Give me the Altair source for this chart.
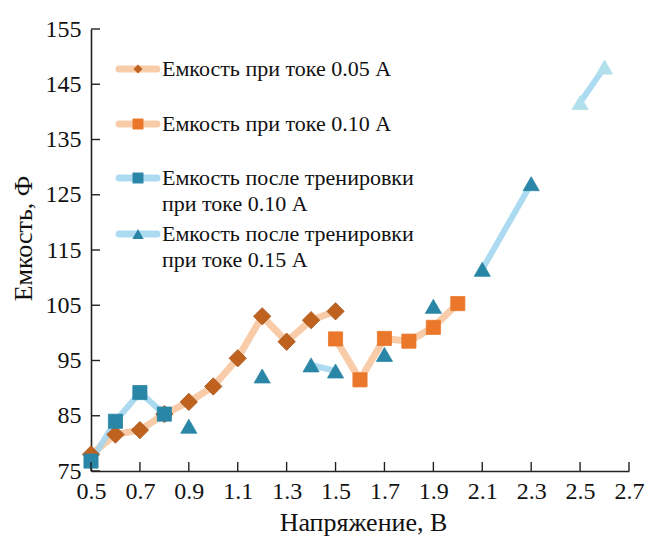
import altair as alt
import pandas as pd

# Capacitance (F) versus voltage (V) for the four measurement series
v005_x = [0.5, 0.6, 0.7, 0.8, 0.9, 1.0, 1.1, 1.2, 1.3, 1.4, 1.5]
v005_y = [78.0, 81.6, 82.4, 85.3, 87.5, 90.3, 95.4, 103.0, 98.4, 102.3, 103.9]

v010_x = [1.5, 1.6, 1.7, 1.8, 1.9, 2.0]
v010_y = [98.9, 91.5, 99.0, 98.5, 101.0, 105.3]

tr010_x = [0.5, 0.6, 0.7, 0.8]
tr010_y = [76.8, 84.0, 89.2, 85.3]

tr015_x = [0.9, 1.2, 1.4, 1.5, 1.7, 1.9, 2.1, 2.3, 2.5, 2.6]
tr015_y = [83.1, 92.2, 94.2, 93.1, 96.1, 104.8, 111.5, 127.0, 141.7, 148.1]
# points sharing a run number are joined by a line
tr015_run = [0, 1, 2, 2, 3, 4, 5, 5, 6, 6]
tr015_faded = [False] * 8 + [True] * 2

x_ticks = [0.5, 0.7, 0.9, 1.1, 1.3, 1.5, 1.7, 1.9, 2.1, 2.3, 2.5, 2.7]
y_ticks = [75, 85, 95, 105, 115, 125, 135, 145, 155]

legend_lines = [
    ["Емкость при токе 0.05 А"],
    ["Емкость при токе 0.10 А"],
    ["Емкость после тренировки", "при токе 0.10 А"],
    ["Емкость после тренировки", "при токе 0.15 А"],
]

FONT = "Liberation Serif"
W, H = 538, 442
PEACH = "#f8c6a0"
SKY = "#a3d6ee"
BROWN = "#c0621f"
ORANGE = "#ea772a"
TEAL = "#2a86a6"
PALE = "#b2dfec"

xs = alt.Scale(domain=[0.5, 2.7], nice=False, zero=False)
ys = alt.Scale(domain=[75, 155], nice=False, zero=False)

s1 = pd.DataFrame({"U": v005_x, "C": v005_y})
s2 = pd.DataFrame({"U": v010_x, "C": v010_y})
s3 = pd.DataFrame({"U": tr010_x, "C": tr010_y})
s4 = pd.DataFrame({"U": tr015_x, "C": tr015_y, "run": tr015_run, "faded": tr015_faded})
s4_lines = s4[s4.groupby("run")["run"].transform("size") > 1]

common = dict(ticks=False, labelFontSize=24, titleFontSize=26, titleFontWeight="normal",
              grid=False, domainColor="#222", domainWidth=1.6, labelColor="#111",
              titleColor="#111", labelFont=FONT, titleFont=FONT,
              labelFlush=False, labelOverlap=False)

X = alt.X("U:Q", scale=xs, axis=alt.Axis(
    values=x_ticks, format=".1f", labelPadding=8,
    title="Напряжение, В", titleX=W / 2 + 3, titleY=51,
    titleBaseline="middle", titleAlign="center", **common))
Y = alt.Y("C:Q", scale=ys, axis=alt.Axis(
    values=y_ticks, labelPadding=10,
    title="Емкость, Ф", titleX=-68, titleY=H / 2 - 12, titleAngle=270,
    titleBaseline="middle", titleAlign="center", **common))


def line(df, color, width, detail=None):
    enc = dict(x=X, y=Y, order="U:Q")
    if detail:
        enc["detail"] = detail
    return alt.Chart(df).mark_line(color=color, strokeWidth=width, opacity=0.9,
                                   strokeCap="round", strokeJoin="round").encode(**enc)


def points(df, shape, color, size, stroke=None):
    return alt.Chart(df).mark_point(shape=shape, filled=True, size=size, opacity=1,
                                    color=color, stroke=stroke or color,
                                    strokeWidth=0.8).encode(x=X, y=Y)


layers = [
    line(s1, PEACH, 7),
    line(s2, PEACH, 7),
    line(s3, SKY, 6),
    line(s4_lines, SKY, 6, detail="run:N"),
    points(s1, "diamond", BROWN, 300, "#a5531a"),
    points(s2, "square", ORANGE, 200),
    points(s3, "square", TEAL, 200),
    points(s4[~s4["faded"]], "triangle-up", TEAL, 260),
    points(s4[s4["faded"]], "triangle-up", PALE, 260),
]

# inward tick marks on both axes
tx = pd.DataFrame({"U": x_ticks})
ty = pd.DataFrame({"C": y_ticks})
layers.append(alt.Chart(tx).mark_rule(color="#222", strokeWidth=1.4).encode(
    x=alt.X("U:Q", scale=xs), y=alt.value(H), y2=alt.value(H - 9)))
layers.append(alt.Chart(ty).mark_rule(color="#222", strokeWidth=1.4).encode(
    y=alt.Y("C:Q", scale=ys), x=alt.value(0), x2=alt.value(9)))

# legend in the upper left of the plot
row_y = [40, 95, 149, 205]
LINE_GAP = 26
leg_style = [
    (PEACH, "diamond", BROWN, 80),
    (PEACH, "square", ORANGE, 120),
    (SKY, "square", TEAL, 120),
    (SKY, "triangle-up", TEAL, 130),
]
for lines_, yy, (lc, shp, mc, msz) in zip(legend_lines, row_y, leg_style):
    one = pd.DataFrame({"label": [lines_[0]]})
    layers.append(alt.Chart(one).mark_rule(color=lc, strokeWidth=7, strokeCap="round",
                                           opacity=0.9).encode(
        x=alt.value(28), x2=alt.value(66), y=alt.value(yy)))
    layers.append(alt.Chart(one).mark_point(shape=shp, filled=True, opacity=1,
                                            color=mc, size=msz).encode(
        x=alt.value(47), y=alt.value(yy)))
    for k, txt in enumerate(lines_):
        layers.append(alt.Chart(pd.DataFrame({"label": [txt]})).mark_text(
            align="left", baseline="middle", font=FONT, fontSize=22, color="#111"
        ).encode(x=alt.value(71), y=alt.value(yy + k * LINE_GAP), text="label:N"))

chart = alt.layer(*layers).properties(
    width=W, height=H,
    autosize=alt.AutoSizeParams(type="none"),
    padding={"left": 91, "top": 29, "right": 20, "bottom": 67},
    background="white",
).configure_view(stroke=None)

chart.save("out.html", embed_options={"renderer": "svg", "actions": False})
